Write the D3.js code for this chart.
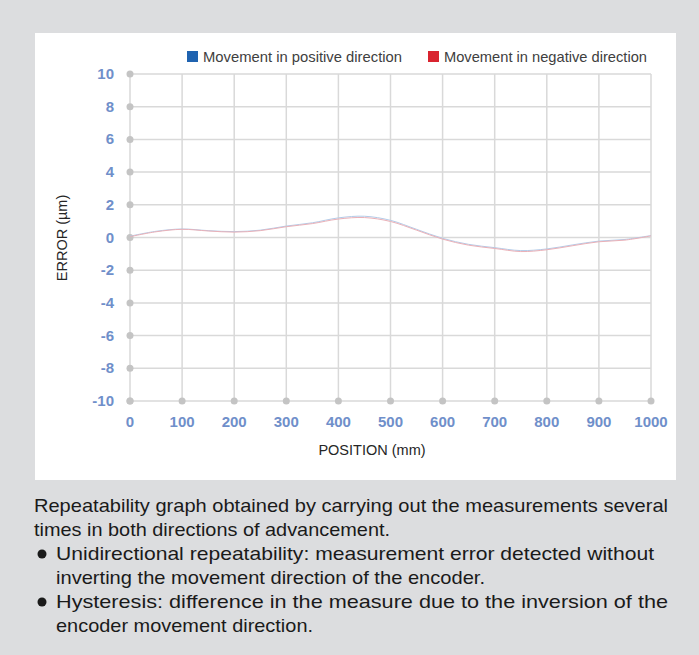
<!DOCTYPE html>
<html>
<head>
<meta charset="utf-8">
<script src="https://cdn.jsdelivr.net/npm/d3@7"></script>
<style>
  body { margin: 0; background: #dcdddf; }
  svg { display: block; }
</style>
</head>
<body>
<div id="chart"></div>
<script>
// data
var positions = [0, 50, 100, 150, 200, 250, 300, 350, 400, 450, 500, 550, 600, 650, 700, 750, 800, 850, 900, 950, 1000];
var positiveDir = [0.08, 0.38, 0.52, 0.42, 0.36, 0.45, 0.7, 0.9, 1.2, 1.3, 1.05, 0.5, -0.05, -0.42, -0.62, -0.8, -0.7, -0.45, -0.22, -0.12, 0.12];
var negativeDir = [0.05, 0.35, 0.5, 0.4, 0.33, 0.42, 0.66, 0.85, 1.13, 1.22, 0.98, 0.45, -0.1, -0.47, -0.67, -0.86, -0.75, -0.5, -0.26, -0.16, 0.1];
var xTicks = [0, 100, 200, 300, 400, 500, 600, 700, 800, 900, 1000];
var yTicks = [-10, -8, -6, -4, -2, 0, 2, 4, 6, 8, 10];
var seriesNames = ["Movement in positive direction", "Movement in negative direction"];
var legendColors = ["#1f63b0", "#d9242f"];
var lineColors = ["#b3cbe8", "#eab0b7"];
var noteLines = [
  "Repeatability graph obtained by carrying out the measurements several",
  "times in both directions of advancement.",
  "Unidirectional repeatability: measurement error detected without",
  "inverting the movement direction of the encoder.",
  "Hysteresis: difference in the measure due to the inversion of the",
  "encoder movement direction."
];

var W = 699, H = 655;
var svg = d3.select("#chart").append("svg").attr("width", W).attr("height", H);

svg.append("rect").attr("width", W).attr("height", H).attr("fill", "#dcdddf");
svg.append("rect").attr("x", 35).attr("y", 33).attr("width", 641).attr("height", 447).attr("fill", "#fff");

var x = d3.scaleLinear().domain([0, 1000]).range([130, 651]);
var y = d3.scaleLinear().domain([-10, 10]).range([401, 74]);

// grid
svg.append("g").selectAll("line").data(yTicks).enter().append("line")
    .attr("x1", x(0)).attr("x2", x(1000))
    .attr("y1", function(d) { return y(d); }).attr("y2", function(d) { return y(d); })
    .attr("stroke", "#d9d9d9").attr("stroke-width", 1.5);
svg.append("g").selectAll("line").data(xTicks).enter().append("line")
    .attr("x1", function(d) { return x(d); }).attr("x2", function(d) { return x(d); })
    .attr("y1", y(-10)).attr("y2", y(10))
    .attr("stroke", "#d9d9d9").attr("stroke-width", 1.5);

// tick dots
svg.append("g").selectAll("circle").data(yTicks).enter().append("circle")
    .attr("cx", x(0)).attr("cy", function(d) { return y(d); }).attr("r", 3.5).attr("fill", "#c4c4c4");
svg.append("g").selectAll("circle").data(xTicks).enter().append("circle")
    .attr("cx", function(d) { return x(d); }).attr("cy", y(-10)).attr("r", 3.5).attr("fill", "#c4c4c4");

// tick labels
svg.append("g").selectAll("text").data(yTicks).enter().append("text")
    .attr("x", 114).attr("y", function(d) { return y(d) + 5; })
    .attr("text-anchor", "end")
    .attr("font-family", "Liberation Sans, Arial, sans-serif").attr("font-weight", "bold")
    .attr("font-size", 15).attr("fill", "#6f8fca")
    .text(function(d) { return d; });
svg.append("g").selectAll("text").data(xTicks).enter().append("text")
    .attr("x", function(d) { return x(d); }).attr("y", 427)
    .attr("text-anchor", "middle")
    .attr("font-family", "Liberation Sans, Arial, sans-serif").attr("font-weight", "bold")
    .attr("font-size", 15).attr("fill", "#6f8fca")
    .text(function(d) { return d; });

// axis titles
svg.append("text").attr("x", 372).attr("y", 455).attr("text-anchor", "middle")
    .attr("font-family", "Liberation Sans, Arial, sans-serif").attr("font-size", 14.5).attr("fill", "#262626")
    .text("POSITION (mm)");
svg.append("text").attr("transform", "translate(67,238) rotate(-90)").attr("text-anchor", "middle")
    .attr("font-family", "Liberation Sans, Arial, sans-serif").attr("font-size", 14.5).attr("fill", "#262626")
    .text("ERROR (\u00b5m)");

// lines
var line = d3.line()
    .x(function(d, i) { return x(positions[i]); })
    .y(function(d) { return y(d); })
    .curve(d3.curveCatmullRom);
[positiveDir, negativeDir].forEach(function(s, i) {
  svg.append("path").attr("d", line(s)).attr("fill", "none")
      .attr("stroke", lineColors[i]).attr("stroke-width", 1);
});

// legend
var legendX = [187, 428];
var legendW = [199, 203];
seriesNames.forEach(function(name, i) {
  svg.append("rect").attr("x", legendX[i]).attr("y", 51).attr("width", 11).attr("height", 11).attr("fill", legendColors[i]);
  svg.append("text").attr("x", legendX[i] + 16).attr("y", 62)
      .attr("font-family", "Liberation Sans, Arial, sans-serif").attr("font-size", 14.5).attr("fill", "#404040")
      .attr("textLength", legendW[i]).attr("lengthAdjust", "spacingAndGlyphs")
      .text(name);
});

// notes under the chart
var noteX = [34, 34, 56, 56, 56, 56];
var noteEnd = [668, 390, 654, 485, 668, 313];
var noteBase = [512, 536, 560, 584, 608, 632];
var notes = svg.append("g").attr("font-family", "Liberation Sans, Arial, sans-serif").attr("font-size", 19).attr("fill", "#1a1a1a");
noteLines.forEach(function(t, i) {
  notes.append("text").attr("x", noteX[i]).attr("y", noteBase[i])
      .attr("textLength", noteEnd[i] - noteX[i]).attr("lengthAdjust", "spacingAndGlyphs")
      .text(t);
});
[560, 608].forEach(function(b) {
  notes.append("circle").attr("cx", 42).attr("cy", b - 6).attr("r", 4.5).attr("fill", "#1a1a1a");
});
</script>
</body>
</html>
